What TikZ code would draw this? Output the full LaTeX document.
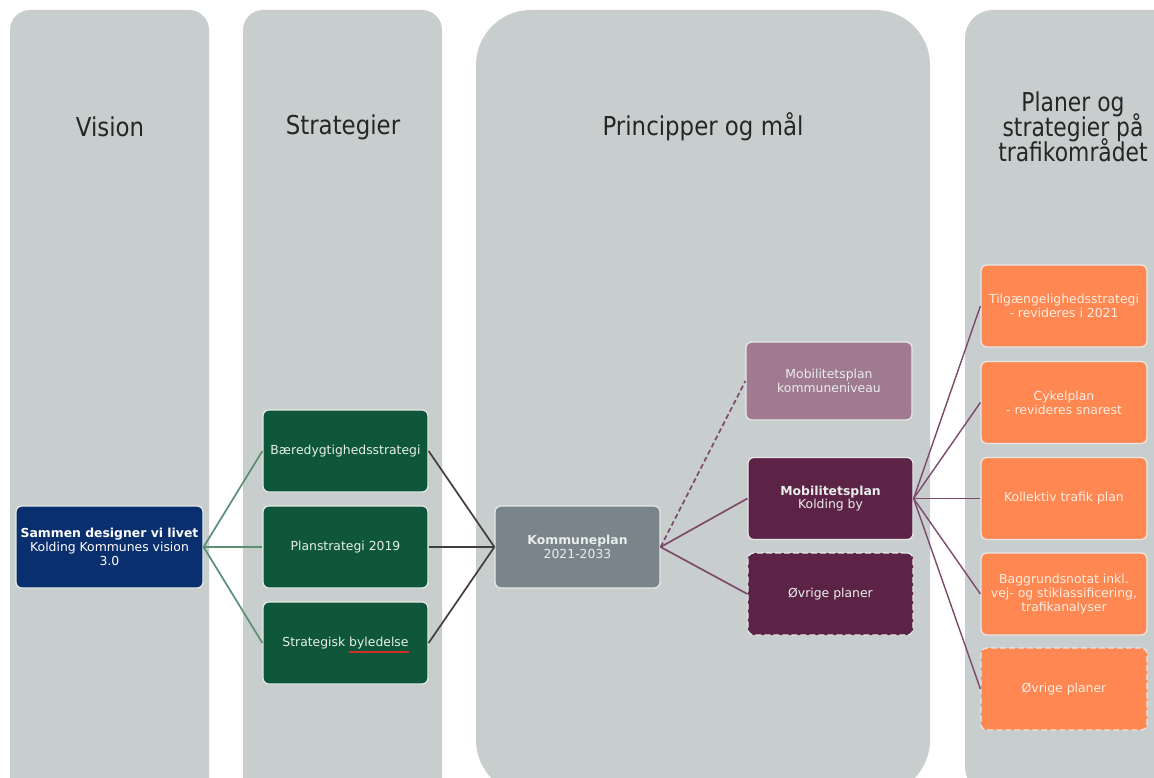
\documentclass[tikz,border=0pt]{standalone}
\usepackage{fontspec}
\setmainfont{DejaVu Sans}
\newfontfamily\titlefont[FakeStretch=0.88]{DejaVu Sans}
\newfontfamily\titlefontc[FakeStretch=0.84]{DejaVu Sans}
\newcommand\myfourfont{\titlefontc\fontsize{26}{25}\selectfont\lineskiplimit=-30pt\relax}
\usetikzlibrary{calc}
\definecolor{colgray}{HTML}{C8CECD}
\definecolor{visblue}{HTML}{0A2F6E}
\definecolor{strgreen}{HTML}{0F573B}
\definecolor{kgray}{HTML}{7A848B}
\definecolor{mauve}{HTML}{A07A90}
\definecolor{plum}{HTML}{5C2347}
\definecolor{orng}{HTML}{FF8751}
\definecolor{lgreen}{HTML}{5A8F72}
\definecolor{lplum}{HTML}{7E4A6C}
\definecolor{ltxt}{HTML}{E8EEEA}
\definecolor{otxt}{HTML}{FCEDE2}
\definecolor{bordr}{HTML}{E6E9E8}
\definecolor{spellred}{HTML}{D0302A}
\tikzset{
  column/.style={fill=colgray, draw=none},
  ttl/.style={font=\titlefont\fontsize{26}{29}\selectfont, text=black!85, align=center},
  box/.style={draw=bordr, line width=1.2pt, rounded corners=6pt, align=center,
    font=\fontsize{12.4}{13.8}\selectfont, inner sep=2pt},
  visbox/.style={box, fill=visblue, text=white, minimum width=187pt, minimum height=82pt},
  strbox/.style={box, fill=strgreen, text=ltxt, minimum width=165pt, minimum height=82pt},
  kbox/.style={box, fill=kgray, text=ltxt, minimum width=165pt, minimum height=82pt},
  mbox/.style={box, fill=mauve, text=ltxt, minimum width=166pt, minimum height=78pt},
  pbox/.style={box, fill=plum, text=ltxt, minimum width=165pt, minimum height=82pt},
  obox/.style={box, fill=orng, text=otxt, minimum width=166pt, minimum height=82pt},
  dashbox/.style={dash pattern=on 6pt off 3pt},
  gline/.style={draw=lgreen, line width=1.7pt},
  kline/.style={draw=black!75, line width=1.7pt},
  pline/.style={draw=lplum, line width=1.7pt},
}
\begin{document}
\begin{tikzpicture}[x=1pt,y=-1pt]
\useasboundingbox (0,0) rectangle (1154,778);
\fill[white] (0,0) rectangle (1154,778);
\begin{scope}
\clip (0,0) rectangle (1154,778);
\fill[column, rounded corners=20pt] (10,10) rectangle (209,800);
\fill[column, rounded corners=20pt] (243,10) rectangle (442,800);
\fill[column, rounded corners=55pt] (476,10) rectangle (930,795);
\fill[column, rounded corners=28pt] (965,10) rectangle (1185,795);
\end{scope}

\node[ttl] (t1) at (110,127) {Vision};
\node[ttl] (t2) at (343,127) {Strategier};
\node[ttl] (t3) at (703,127) {Principper og mål};
\node[ttl, font=\myfourfont] (t4) at (1073,127) {Planer og\\strategier på\\trafikområdet};

\node[visbox] (vis) at (109.5,547) {\textbf{Sammen designer vi livet}\\Kolding Kommunes vision\\3.0};

\node[strbox] (s1) at (345.5,451) {Bæredygtighedsstrategi};
\node[strbox] (s2) at (345.5,547) {Planstrategi 2019};
\node[strbox] (s3) at (345.5,643) {Strategisk byledelse};
\draw[spellred, line width=1.1pt] ($(s3.center)+(3,9)$) -- ($(s3.center)+(63,9)$);

\node[kbox] (kp) at (577.5,547) {\textbf{Kommuneplan}\\2021-2033};

\node[mbox] (mk) at (829,381) {Mobilitetsplan\\kommuneniveau};
\node[pbox] (mb) at (830.5,498.5) {\textbf{Mobilitetsplan}\\Kolding by};
\node[pbox, dashbox] (ov1) at (830.5,594) {Øvrige planer};

\node[obox] (o1) at (1064,306) {Tilgængelighedsstrategi\\- revideres i 2021};
\node[obox] (o2) at (1064,402.5) {Cykelplan\\- revideres snarest};
\node[obox] (o3) at (1064,498.5) {Kollektiv trafik plan};
\node[obox] (o4) at (1064,594) {Baggrundsnotat inkl.\\vej- og stiklassificering,\\trafikanalyser};
\node[obox, dashbox] (o5) at (1064,689) {Øvrige planer};

\foreach \s in {s1,s2,s3} {
  \draw[gline] (vis.east) -- (\s.west);
  \draw[kline] (\s.east) -- (kp.west);
}
\draw[pline, dash pattern=on 5pt off 3pt] (kp.east) -- (mk.west);
\draw[pline] (kp.east) -- (mb.west);
\draw[pline] (kp.east) -- (ov1.west);
\foreach \o in {o1,o2,o3,o4,o5} {
  \draw[pline, line width=1.4pt] (mb.east) -- (\o.west);
}
\end{tikzpicture}
\end{document}
